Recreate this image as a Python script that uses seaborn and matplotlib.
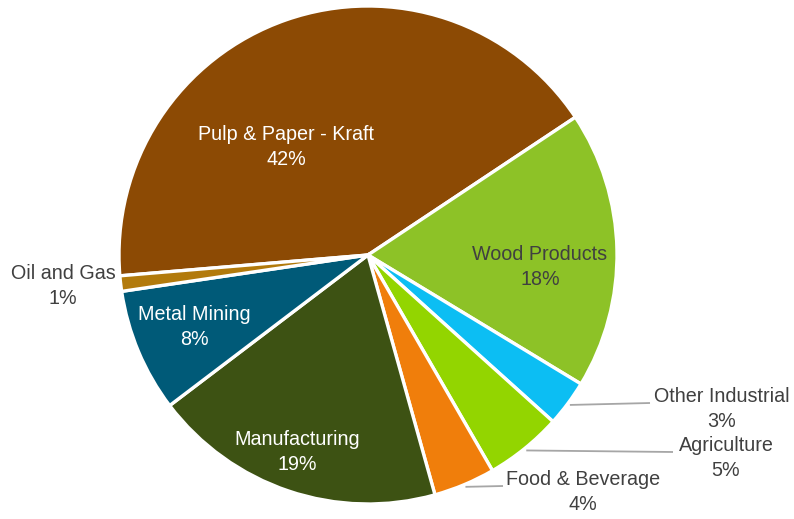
import matplotlib
matplotlib.use("Agg")
import matplotlib.pyplot as plt
import numpy as np
import seaborn as sns

# Sector shares (%)
sectors = ["Pulp & Paper - Kraft", "Wood Products", "Other Industrial", "Agriculture",
           "Food & Beverage", "Manufacturing", "Metal Mining", "Oil and Gas"]
shares = [42, 18, 3, 5, 4, 19, 8, 1]
colors = ["#8C4A04", "#8DC227", "#0CBEF3", "#93D500", "#F07E0B", "#3D5213", "#005A78", "#B27A0C"]

sns.set_style("white")
plt.rcParams["font.family"] = ["Liberation Sans Narrow", "Liberation Sans", "DejaVu Sans"]

W, H = 794, 519
fig = plt.figure(figsize=(W / 100, H / 100), dpi=100)
ax = fig.add_axes([0, 0, 1, 1])


def px(x, y):
    """Pixel position (origin top-left) to data coordinates."""
    return x, H - y


cx, cy = px(368, 255)
R = 249
palette = sns.color_palette(colors)
wedges, _ = ax.pie(shares, colors=palette, startangle=184.8, counterclock=False,
                   center=(cx, cy), radius=R, frame=True,
                   wedgeprops=dict(edgecolor="white", linewidth=2.4))

ax.set_xlim(0, W)
ax.set_ylim(0, H)
ax.set_aspect("equal")
ax.axis("off")

dark = "#404040"
# label anchors: (x, y, color, outside-with-leader)
layout = {
    "Pulp & Paper - Kraft": (286, 147, "white", False),
    "Wood Products": (540, 267, dark, False),
    "Other Industrial": (722, 409, dark, True),
    "Agriculture": (726, 458, dark, True),
    "Food & Beverage": (583, 492, dark, True),
    "Manufacturing": (297, 452, "white", False),
    "Metal Mining": (194, 327, "white", False),
    "Oil and Gas": (63, 286, dark, False),
}
leader_end = {"Other Industrial": 650, "Agriculture": 673, "Food & Beverage": 503}

for w, name, val in zip(wedges, sectors, shares):
    x, y, col, outside = layout[name]
    tx, ty = px(x, y)
    ax.text(tx, ty, f"{name}\n{val}%", ha="center", va="center", color=col,
            fontsize=14.2, linespacing=1.45)
    if outside:
        mid = np.deg2rad((w.theta1 + w.theta2) / 2)
        sx = cx + R * 1.01 * np.cos(mid)
        sy = cy + R * 1.01 * np.sin(mid)
        ex = leader_end[name]
        ey = ty + 6
        ax.plot([sx, ex], [sy, ey], color="#A6A6A6", linewidth=1.3,
                solid_capstyle="butt")

fig.savefig("out.png", dpi=100, facecolor="white")
